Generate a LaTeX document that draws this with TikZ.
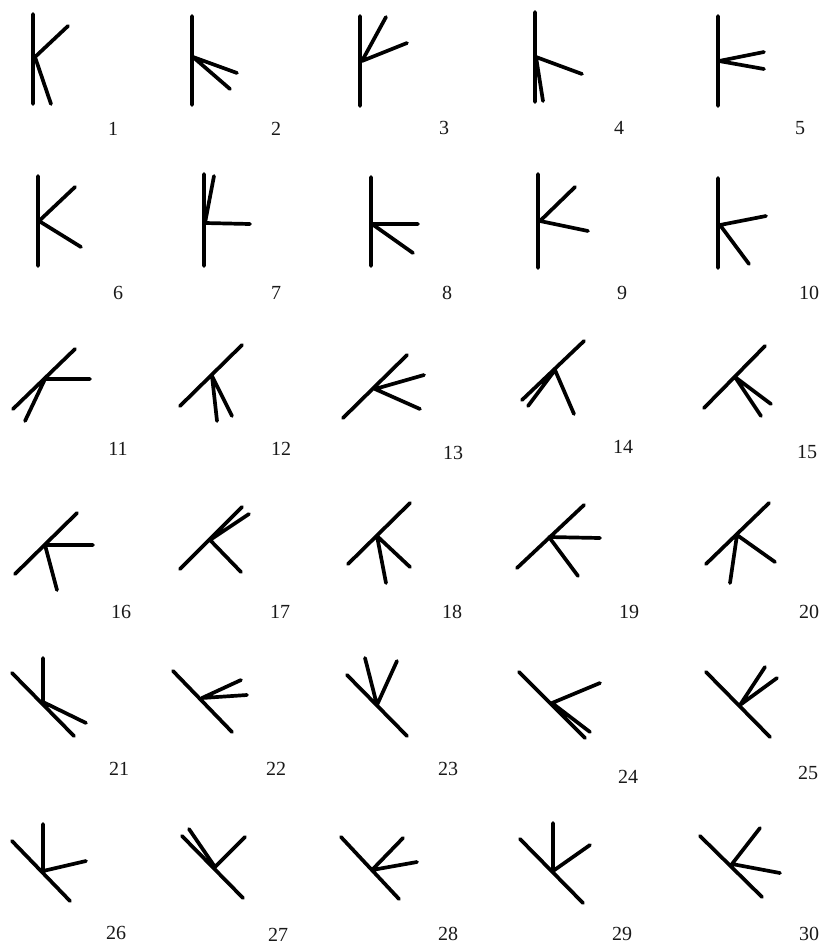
\documentclass[tikz,border=0pt]{standalone}
\usepackage{fontspec}
\setmainfont{Liberation Serif}
\newcommand{\stk}[6]{%
  \coordinate (m#1a) at (#2); \coordinate (m#1b) at (#3);
  \coordinate (j#1) at (#4); \coordinate (p#1) at (#5); \coordinate (q#1) at (#6);
  \draw[stick] (m#1a) -- (m#1b) (j#1) -- (p#1) (j#1) -- (q#1);}
\begin{document}
\begin{tikzpicture}[x=1pt,y=-1pt,
  stick/.style={line width=3.7pt,line cap=round,black},
  lbl/.style={font=\fontsize{20}{20}\selectfont,inner sep=0pt,text=black!90}]
\useasboundingbox[fill=white] (0,0) rectangle (824,946);
% row 1
\stk{1}{33,14}{33,104}{35,57}{68,26}{51,104}
\stk{2}{192,16}{192,105}{193,57}{237,73}{230,89}
\stk{3}{360,16}{360,106}{362,61}{386,17}{407,43}
\stk{4}{535,12}{535,102}{536,57}{582,74}{543,101}
\stk{5}{718,16}{718,106}{719,61}{764,52}{764,69}
% row 2
\stk{6}{38,176}{38,266}{39,221}{75,187}{81,247}
\stk{7}{204,174}{204,266}{205,223}{214,176}{250,224}
\stk{8}{371,177}{371,266}{372,224}{418,224}{413,253}
\stk{9}{538,174}{538,268}{540,221}{575,187}{588,231}
\stk{10}{718,178}{718,268}{720,225}{766,216}{749,264}
% row 3
\stk{11}{13,409}{75,349}{45,379}{90,379}{25,421}
\stk{12}{180,406}{242,345}{212,376}{217,421}{232,416}
\stk{13}{343,418}{407,355}{375,389}{424,375}{420,409}
\stk{14}{522,400}{584,341}{555,370}{528,406}{574,414}
\stk{15}{704,408}{765,346}{735,377}{771,404}{761,416}
% row 4
\stk{16}{15,574}{77,513}{45,545}{93,545}{57,590}
\stk{17}{180,569}{242,507}{210,540}{249,514}{241,572}
\stk{18}{348,564}{410,503}{377,536}{386,583}{410,567}
\stk{19}{517,568}{584,505}{549,537}{600,538}{578,576}
\stk{20}{706,564}{769,503}{737,535}{730,583}{775,562}
% row 5
\stk{21}{12,673}{74,736}{43,702}{43,658}{86,723}
\stk{22}{173,671}{232,732}{202,698}{241,680}{247,695}
\stk{23}{347,675}{407,736}{377,705}{365,658}{397,661}
\stk{24}{519,672}{585,738}{552,703}{590,732}{600,683}
\stk{25}{706,672}{770,737}{740,705}{765,667}{777,678}
% row 6
\stk{26}{12,841}{70,901}{43,871}{43,824}{86,861}
\stk{27}{182,836}{243,898}{215,867}{189,829}{245,837}
\stk{28}{341,837}{399,899}{372,870}{403,838}{417,862}
\stk{29}{520,839}{583,903}{553,871}{553,823}{590,845}
\stk{30}{700,836}{762,897}{732,864}{760,828}{780,873}
% labels
\node[lbl] (l1) at (113,129) {1};
\node[lbl] (l2) at (276,129) {2};
\node[lbl] (l3) at (444,128) {3};
\node[lbl] (l4) at (619,128) {4};
\node[lbl] (l5) at (800,128) {5};
\node[lbl] (l6) at (118,293) {6};
\node[lbl] (l7) at (276,293) {7};
\node[lbl] (l8) at (447,293) {8};
\node[lbl] (l9) at (622,293) {9};
\node[lbl] (l10) at (809,293) {10};
\node[lbl] (l11) at (118,449) {11};
\node[lbl] (l12) at (281,449) {12};
\node[lbl] (l13) at (453,453) {13};
\node[lbl] (l14) at (623,447) {14};
\node[lbl] (l15) at (807,452) {15};
\node[lbl] (l16) at (121,612) {16};
\node[lbl] (l17) at (280,612) {17};
\node[lbl] (l18) at (452,612) {18};
\node[lbl] (l19) at (629,612) {19};
\node[lbl] (l20) at (809,612) {20};
\node[lbl] (l21) at (119,769) {21};
\node[lbl] (l22) at (276,769) {22};
\node[lbl] (l23) at (448,769) {23};
\node[lbl] (l24) at (628,777) {24};
\node[lbl] (l25) at (808,773) {25};
\node[lbl] (l26) at (116,933) {26};
\node[lbl] (l27) at (278,935) {27};
\node[lbl] (l28) at (448,934) {28};
\node[lbl] (l29) at (622,934) {29};
\node[lbl] (l30) at (809,934) {30};
\end{tikzpicture}
\end{document}
